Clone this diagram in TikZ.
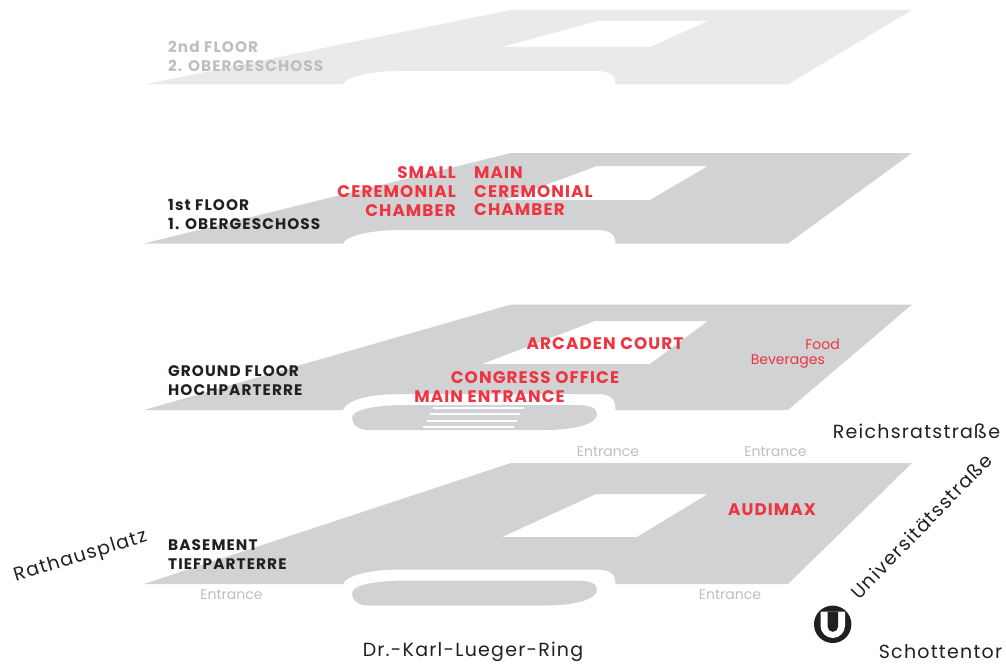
\documentclass[tikz,border=0pt]{standalone}
\usepackage{fontspec}
\setmainfont{Poppins}
\newfontfamily\spacedfloor[LetterSpace=7]{Poppins}
\newfontfamily\spacedroom[LetterSpace=6.5]{Poppins}
\newfontfamily\spacedreg[LetterSpace=6.5]{Poppins}
\definecolor{floorgrey}{HTML}{D1D2D4}
\definecolor{paleg}{HTML}{E9EAEB}
\definecolor{redlab}{HTML}{EE3440}
\definecolor{inkk}{HTML}{231F20}
\definecolor{labg}{HTML}{BCBEC0}
\tikzset{
 roomlab/.style={font=\spacedroom\fontsize{16.8}{18.7}\selectfont\bfseries,text=redlab,inner sep=0pt},
 floorlab/.style={font=\spacedfloor\fontsize{15.3}{19}\selectfont\bfseries,text=inkk,inner sep=0pt,anchor=north west,align=left},
 streetlab/.style={font=\spacedreg\fontsize{19}{20}\selectfont,text=inkk,inner sep=0pt},
 entlab/.style={font=\fontsize{14}{16}\selectfont,text=labg,inner sep=0pt},
 foodlab/.style={font=\fontsize{14}{17}\selectfont,text=redlab,inner sep=0pt},
}
\newcommand{\floorshape}[8]{% T B notchTop ctop cbot cleftlow clefttop crightlow
 \fill[fl,even odd rule] (144,#2) -- (511,#1) -- (912,#1) -- (788,#2) -- (615.5,#2)
   .. controls (615.5,#3+4) and (610,#3) .. (596,#3) -- (400,#3)
   .. controls (370,#3) and (346,#3+6) .. (343,#2) -- cycle
   (#6,#5) -- (#7,#4) -- (708,#4) -- (#8,#5) -- cycle;
}
\newcommand{\islandshape}[1]{%
 \fill[floorgrey] (368,#1+25) .. controls (358,#1+25) and (352,#1+19) .. (352,#1+13) .. controls (352,#1+5) and (372,#1) .. (410,#1) -- (575,#1) .. controls (590,#1) and (597,#1+3) .. (597,#1+9) .. controls (597,#1+18) and (578,#1+25) .. (545,#1+25) -- cycle;
}
\begin{document}
\begin{tikzpicture}[x=1pt,y=-1pt]
\useasboundingbox (0,0) rectangle (1006,666);
\colorlet{fl}{paleg}
\floorshape{10}{84.5}{71}{21}{47}{502}{597}{650}
\colorlet{fl}{floorgrey}
\floorshape{153}{243.5}{230}{166}{200}{505}{597}{650}
\floorshape{304.5}{410}{394}{321}{364}{482}{595}{650}
\floorshape{463}{584}{569.5}{494}{537}{502}{596}{637}
% islands
\islandshape{405}
\foreach \y/\a/\b in {408.3/433/524,414.3/430/520,420.7/427/517,426.7/423/514}
  \fill[white] (\a,\y-.9) rectangle (\b,\y+.9);
\islandshape{580.5}
% floor labels
\node[floorlab,text=labg] (f2) at (168,40.5) {2nd FLOOR\\2. OBERGESCHOSS};
\node[floorlab] (f1) at (168,199.5) {1st FLOOR\\1. OBERGESCHOSS};
\node[floorlab] (f0) at (168,365.5) {GROUND FLOOR\\HOCHPARTERRE};
\node[floorlab] (fb) at (168,539.5) {BASEMENT\\TIEFPARTERRE};
% rooms
\node[roomlab,anchor=north east,align=right] (scc) at (456,166.5) {SMALL\\CEREMONIAL\\CHAMBER};
\node[roomlab,anchor=north west,align=left] (mcc) at (474,166.5) {MAIN\\CEREMONIAL\\CHAMBER};
\node[roomlab] (arc) at (605,343.5) {ARCADEN COURT};
\node[roomlab] (con) at (535,377.5) {CONGRESS OFFICE};
\node[roomlab] (men) at (489.5,396.5) {MAIN ENTRANCE};
\node[roomlab] (aud) at (772,509.5) {AUDIMAX};
\node[foodlab,anchor=east] (food) at (840,344.5) {Food};
\node[foodlab,anchor=east] (bev) at (825,362) {Beverages};
% entrances
\node[entlab] (e1) at (608,452) {Entrance};
\node[entlab] (e2) at (775.5,452) {Entrance};
\node[entlab] (e3) at (231.5,595) {Entrance};
\node[entlab] (e4) at (730,595) {Entrance};
% streets
\node[streetlab] (rr) at (916.5,431) {Reichsratstraße};
\node[streetlab,rotate=46] (us) at (921,526) {Universitätsstraße};
\node[streetlab,rotate=17] (rp) at (80.5,557) {Rathausplatz};
\node[streetlab] (kl) at (473,652) {Dr.-Karl-Lueger-Ring};
\node[streetlab] (st) at (940.5,652) {Schottentor};
% U
\fill[inkk] (832.7,624.3) circle (18.7);
\fill[white] (820.5,611.5) -- (845,611.5) -- (845,625.7) arc (0:180:12.25) -- cycle;
\fill[inkk] (827.7,611.5) -- (838,611.5) -- (838,626.7) arc (0:180:5.15) -- cycle;
\end{tikzpicture}
\end{document}
